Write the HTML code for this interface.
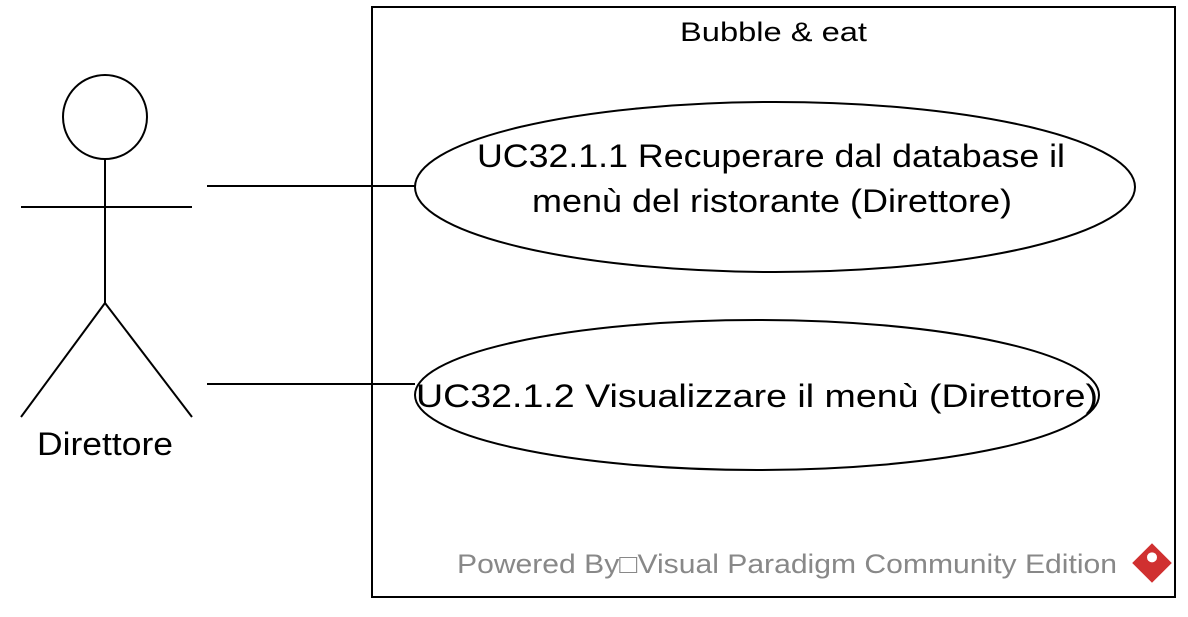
<!DOCTYPE html>
<html><head><meta charset="utf-8"><style>
body{margin:0;background:#fff;width:1188px;height:612px;overflow:hidden}
svg text{font-family:"Liberation Sans",sans-serif}
</style></head><body>
<svg width="1188" height="612" viewBox="0 0 1188 612" xmlns="http://www.w3.org/2000/svg">
<rect x="372" y="7" width="803" height="590" fill="#fff" stroke="#000" stroke-width="2"/>
<text x="680" y="41" font-size="27" textLength="187" lengthAdjust="spacingAndGlyphs">Bubble &amp; eat</text>
<g stroke="#000" stroke-width="2" fill="none">
<circle cx="105" cy="117" r="42"/>
<line x1="105" y1="159" x2="105" y2="303"/>
<line x1="21" y1="207" x2="192" y2="207"/>
<line x1="105" y1="303" x2="21" y2="417"/>
<line x1="105" y1="303" x2="192" y2="417"/>
<line x1="207" y1="186" x2="415" y2="186"/>
<line x1="207" y1="384" x2="415" y2="384"/>
<ellipse cx="775" cy="187" rx="360" ry="85" fill="#fff"/>
<ellipse cx="757" cy="395" rx="342" ry="75" fill="#fff"/>
</g>
<text x="37" y="455" font-size="32" textLength="136" lengthAdjust="spacingAndGlyphs">Direttore</text>
<text x="477" y="167" font-size="32" textLength="588" lengthAdjust="spacingAndGlyphs">UC32.1.1 Recuperare dal database il</text>
<text x="532" y="212" font-size="32" textLength="480" lengthAdjust="spacingAndGlyphs">menù del ristorante (Direttore)</text>
<text x="416" y="407" font-size="32" textLength="682" lengthAdjust="spacingAndGlyphs">UC32.1.2 Visualizzare il menù (Direttore)</text>
<text x="457" y="573" font-size="27" fill="#888" textLength="660" lengthAdjust="spacingAndGlyphs">Powered By□Visual Paradigm Community Edition</text>
<g transform="translate(1152,563) rotate(45)">
<rect x="-14" y="-14" width="28" height="28" fill="#d03030"/>
<circle cx="-4" cy="-4" r="5" fill="#fff"/>
</g>
</svg>
</body></html>
